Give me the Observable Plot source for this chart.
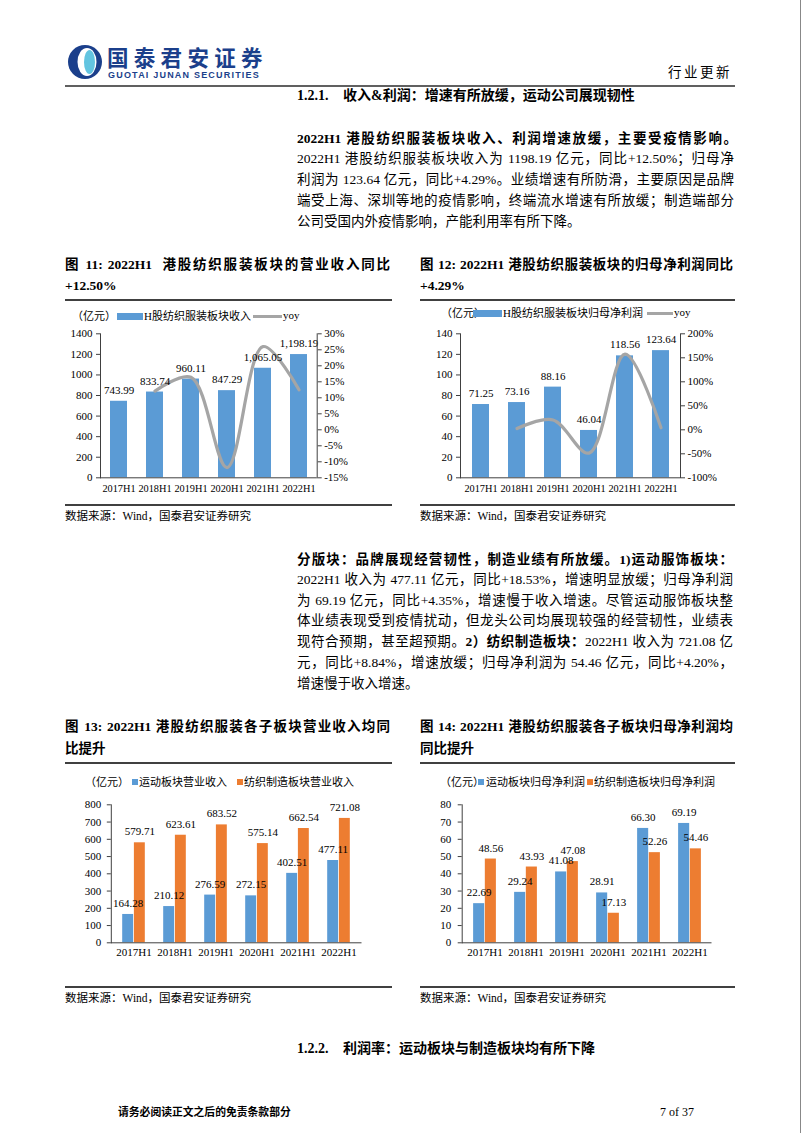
<!DOCTYPE html>
<html><head><meta charset="utf-8">
<script src="https://cdn.jsdelivr.net/npm/d3@7"></script>
<script src="https://cdn.jsdelivr.net/npm/@observablehq/plot@0.6"></script>
<style>
html,body{margin:0;padding:0;background:#fff;}
#page{position:relative;width:802px;height:1133px;overflow:hidden;font-family:"Liberation Serif","Noto Sans CJK SC",serif;color:#000;}
.t{position:absolute;white-space:nowrap;}
.j{text-align:justify;text-align-last:justify;white-space:normal;overflow:visible;}
.rule{position:absolute;background:#404040;}
.sw{position:absolute;}
.chart{position:absolute;}
b{font-weight:bold;}
</style></head><body><div id="page"></div>
<script>
// ---------- data ----------
const years = ["2017H1","2018H1","2019H1","2020H1","2021H1","2022H1"];
const revenue = [743.99, 833.74, 960.11, 847.29, 1065.05, 1198.19];
const revenueYoy = [null, 12.1, 16.4, -11.8, 26.0, 12.5];
const profit = [71.25, 73.16, 88.16, 46.04, 118.56, 123.64];
const profitYoy = [null, 2.7, 20.5, -48.5, 157.5, 4.3];
const sportRev = [164.28, 210.12, 276.59, 272.15, 402.51, 477.11];
const mfgRev = [579.71, 623.61, 683.52, 575.14, 662.54, 721.08];
const sportProfit = [22.69, 29.24, 41.08, 28.91, 66.30, 69.19];
const mfgProfit = [48.56, 43.93, 47.08, 17.13, 52.26, 54.46];
const revTicks = [0,200,400,600,800,1000,1200,1400];
const revYoyTicks = [-15,-10,-5,0,5,10,15,20,25,30];
const profitTicks = [0,20,40,60,80,100,120,140];
const profitYoyTicks = [-100,-50,0,50,100,150,200];
const subRevTicks = [0,100,200,300,400,500,600,700,800];
const subProfitTicks = [0,10,20,30,40,50,60,70,80];

const BLUE = "#5b9bd5", ORANGE = "#ed7d31", GRAY = "#a5a5a5", AXIS = "#404040";
const FONT = '"Liberation Serif","Noto Sans CJK SC",serif';
const page = document.getElementById("page");

function el(tag, cls, css, html) {
  const e = document.createElement(tag);
  if (cls) e.className = cls;
  Object.assign(e.style, css || {});
  if (html != null) e.innerHTML = html;
  page.appendChild(e);
  return e;
}
function line(x, y, html, opt = {}) {
  const size = opt.size || 13.5;
  const lh = opt.lh || Math.round(size * 1.3);
  const css = {left: x + "px", top: (y - lh / 2) + "px", fontSize: size + "px", lineHeight: lh + "px", height: lh + "px"};
  if (opt.w) css.width = opt.w + "px";
  if (opt.bold) css.fontWeight = "bold";
  if (opt.color) css.color = opt.color;
  if (opt.ls) css.letterSpacing = opt.ls + "px";
  if (opt.family) css.fontFamily = opt.family;
  return el("div", "t" + (opt.w ? " j" : ""), css, html);
}
function rule(x1, x2, y, h = 1.5, color = AXIS) {
  el("div", "rule", {left: x1 + "px", top: (y - h / 2) + "px", width: (x2 - x1) + "px", height: h + "px", background: color});
}
function swatch(x, y, w, h, color) {
  el("div", "sw", {left: x + "px", top: y + "px", width: w + "px", height: h + "px", background: color});
}
function place(svg, x, y) {
  const d = el("div", "chart", {left: x + "px", top: y + "px"});
  d.appendChild(svg);
}

// ---------- header ----------
el("div", "chart", {left: "67px", top: "44px"},
  `<svg width="36" height="36" viewBox="0 0 36 36">
    <circle cx="18" cy="18" r="17" fill="#1b3f8b"/>
    <ellipse cx="20" cy="18" rx="9.5" ry="14" fill="#fff"/>
    <ellipse cx="22.5" cy="18" rx="5.5" ry="12" fill="#62c4e0"/>
  </svg>`);
line(107, 57, "国泰君安证券", {size: 21.5, lh: 22, bold: true, color: "#1b3f8b", ls: 5.3, family: '"Noto Sans CJK SC",sans-serif'});
line(108, 75, "GUOTAI JUNAN SECURITIES", {size: 9, lh: 10, bold: true, color: "#1b3f8b", ls: 1.2, family: '"Liberation Sans",sans-serif'});
line(668, 73, "行业更新", {size: 13.5, ls: 2.5});
rule(65, 735, 86, 2, "#606060");
el("div", "rule", {left: "800px", top: "0px", width: "1px", height: "1133px", background: "#888"});

// ---------- section 1.2.1 ----------
line(297, 96, "1.2.1.", {size: 14, bold: true});
line(343, 96, "收入&amp;利润：增速有所放缓，运动公司展现韧性", {size: 14, bold: true});

const W1 = 437;
line(297, 138.5, "2022H1 港股纺织服装板块收入、利润增速放缓，主要受疫情影响。", {w: 440, bold: true});
line(297, 158.5, "2022H1 港股纺织服装板块收入为 1198.19 亿元，同比+12.50%；归母净", {w: W1});
line(297, 179.5, "利润为 123.64 亿元，同比+4.29%。业绩增速有所防滑，主要原因是品牌", {w: W1});
line(297, 200.5, "端受上海、深圳等地的疫情影响，终端流水增速有所放缓；制造端部分", {w: W1});
line(297, 221.5, "公司受国内外疫情影响，产能利用率有所下降。", {});

// ---------- figure titles 11/12 ----------
line(65, 265, "图 11: 2022H1&nbsp; 港股纺织服装板块的营业收入同比", {w: 325, bold: true});
line(65, 286, "+12.50%", {bold: true});
line(420, 265, "图 12: 2022H1 港股纺织服装板块的归母净利润同比", {w: 313, bold: true});
line(420, 286, "+4.29%", {bold: true});
rule(65, 392, 300); rule(420, 735, 300);
rule(65, 392, 505); rule(420, 735, 505);
line(65, 516, "数据来源：Wind，国泰君安证券研究", {size: 11.5});
line(420, 516, "数据来源：Wind，国泰君安证券研究", {size: 11.5});

// ---------- paragraph 2 ----------
const W2 = 436;
line(297, 560, "分版块：品牌展现经营韧性，制造业绩有所放缓。1)运动服饰板块：", {w: W2, bold: true});
line(297, 579.5, "2022H1 收入为 477.11 亿元，同比+18.53%，增速明显放缓；归母净利润", {w: W2});
line(297, 600.5, "为 69.19 亿元，同比+4.35%，增速慢于收入增速。尽管运动服饰板块整", {w: W2});
line(297, 621, "体业绩表现受到疫情扰动，但龙头公司均展现较强的经营韧性，业绩表", {w: W2});
line(297, 642, "现符合预期，甚至超预期。<b>2）纺织制造板块：</b>2022H1 收入为 721.08 亿", {w: W2});
line(297, 662.5, "元，同比+8.84%，增速放缓；归母净利润为 54.46 亿元，同比+4.20%，", {w: W2});
line(297, 683.5, "增速慢于收入增速。", {});

// ---------- figure titles 13/14 ----------
line(65, 727, "图 13: 2022H1 港股纺织服装各子板块营业收入均同", {w: 325, bold: true});
line(65, 749, "比提升", {bold: true});
line(420, 727, "图 14: 2022H1 港股纺织服装各子板块归母净利润均", {w: 313, bold: true});
line(420, 749, "同比提升", {bold: true});
rule(65, 392, 763); rule(420, 735, 763);
rule(65, 392, 987); rule(420, 735, 987);
line(65, 998, "数据来源：Wind，国泰君安证券研究", {size: 11.5});
line(420, 998, "数据来源：Wind，国泰君安证券研究", {size: 11.5});

line(297, 1049, "1.2.2.", {size: 14, bold: true});
line(343, 1049, "利润率：运动板块与制造板块均有所下降", {size: 14, bold: true});

line(118, 1112, "请务必阅读正文之后的免责条款部分", {size: 10.8, bold: true});
line(660, 1112, "7 of 37", {size: 12});

// ---------- legends ----------
const LS = 11;
line(72, 316, "（亿元）", {size: LS});
swatch(117, 312.5, 26, 7, BLUE);
line(144, 316, "H股纺织服装板块收入", {size: LS});
swatch(253, 314.5, 29, 3, GRAY);
line(283, 315, "yoy", {size: LS});

line(441, 313, "（亿元）", {size: LS});
swatch(473, 309.5, 29, 7, BLUE);
line(503, 313, "H股纺织服装板块归母净利润", {size: LS});
swatch(647, 311.5, 26, 3, GRAY);
line(674, 312, "yoy", {size: LS});

line(85, 782, "（亿元）", {size: LS});
swatch(132, 779, 6, 6, BLUE);
line(139, 782, "运动板块营业收入", {size: LS});
swatch(237, 779, 6, 6, ORANGE);
line(244, 782, "纺织制造板块营业收入", {size: LS});

line(440, 782, "（亿元）", {size: LS});
swatch(478, 779, 6, 6, BLUE);
line(486, 782, "运动板块归母净利润", {size: LS});
swatch(587, 779, 6, 6, ORANGE);
line(594, 782, "纺织制造板块归母净利润", {size: LS});

// ---------- charts ----------
const style = {fontFamily: FONT, fontSize: "11px", color: "#000", background: "transparent", overflow: "visible"};
const f2 = d3.format(".2f"), fc = d3.format(",.2f"), fi = d3.format("d");

function dualChart(values, yoy, yMax, yoyMin, yoyMax, leftTicks, rightTicks, fmt, dims) {
  const toLeft = v => (v - yoyMin) / (yoyMax - yoyMin) * yMax;
  const fromLeft = v => v / yMax * (yoyMax - yoyMin) + yoyMin;
  const bars = years.map((y, i) => ({year: y, value: values[i]}));
  const ln = years.map((y, i) => ({year: y, yoy: yoy[i]})).filter(d => d.yoy != null);
  return Plot.plot({
    ...dims, style,
    x: {domain: years, paddingInner: 0.54, paddingOuter: 0.27},
    y: {domain: [0, yMax]},
    marks: [
      Plot.barY(bars, {x: "year", y: "value", fill: BLUE}),
      Plot.line(ln, {x: "year", y: d => toLeft(d.yoy), stroke: GRAY, strokeWidth: 3.2, curve: "catmull-rom"}),
      Plot.text(bars, {x: "year", y: "value", text: d => fmt(d.value), dy: -11, fontSize: 11}),
      Plot.ruleY([0], {stroke: AXIS}),
      Plot.frame({anchor: "left", stroke: AXIS}),
      Plot.frame({anchor: "right", stroke: AXIS}),
      Plot.axisY(leftTicks, {anchor: "left", tickSize: 4, tickPadding: 4, label: null, stroke: AXIS, tickFormat: fi}),
      Plot.axisY(rightTicks.map(toLeft), {anchor: "right", tickSize: 4, tickPadding: 3, label: null, stroke: AXIS,
        tickFormat: v => Math.round(fromLeft(v)) + "%"}),
      Plot.axisX({tickSize: 0, tickPadding: 7, label: null, fontSize: 10.3})
    ]
  });
}

function groupChart(a, b, yMax, ticks, fmt, dims, pad) {
  const A = years.map((y, i) => ({year: y, value: a[i]}));
  const B = years.map((y, i) => ({year: y, value: b[i]}));
  const bw = (dims.width - dims.marginLeft - dims.marginRight) / years.length;
  const barW = 11.7, half = bw / 2;
  return Plot.plot({
    ...dims, style,
    x: {domain: years, padding: 0},
    y: {domain: [0, yMax]},
    marks: [
      Plot.barY(A, {x: "year", y: "value", fill: BLUE, insetLeft: half - barW, insetRight: half}),
      Plot.barY(B, {x: "year", y: "value", fill: ORANGE, insetLeft: half, insetRight: half - barW}),
      Plot.text(A, {x: "year", y: "value", text: d => fmt(d.value), dx: -barW / 2, dy: -11, fontSize: 11}),
      Plot.text(B, {x: "year", y: "value", text: d => fmt(d.value), dx: barW / 2, dy: -11, fontSize: 11}),
      Plot.ruleY([0], {stroke: AXIS}),
      Plot.frame({anchor: "left", stroke: AXIS}),
      Plot.axisY(ticks, {anchor: "left", tickSize: 4, tickPadding: pad, label: null, stroke: AXIS, tickFormat: fi}),
      Plot.axisX({tickSize: 0, tickPadding: 5, label: null})
    ]
  });
}

place(dualChart(revenue, revenueYoy, 1400, -15, 30, revTicks, revYoyTicks, fc,
  {width: 320, height: 180, marginLeft: 40, marginRight: 63.3, marginTop: 8.3, marginBottom: 27.7}), 60, 325);
place(dualChart(profit, profitYoy, 140, -100, 200, profitTicks, profitYoyTicks, f2,
  {width: 310, height: 180, marginLeft: 50, marginRight: 40, marginTop: 8.3, marginBottom: 27.7}), 410, 325);
place(groupChart(sportRev, mfgRev, 800, subRevTicks, f2,
  {width: 320, height: 165, marginLeft: 50.8, marginRight: 18.5, marginTop: 9.3, marginBottom: 17.7}, 6), 60, 795);
place(groupChart(sportProfit, mfgProfit, 80, subProfitTicks, f2,
  {width: 310, height: 165, marginLeft: 51.7, marginRight: 8.5, marginTop: 9.3, marginBottom: 17.7}, 7), 410, 795);
</script></body></html>
